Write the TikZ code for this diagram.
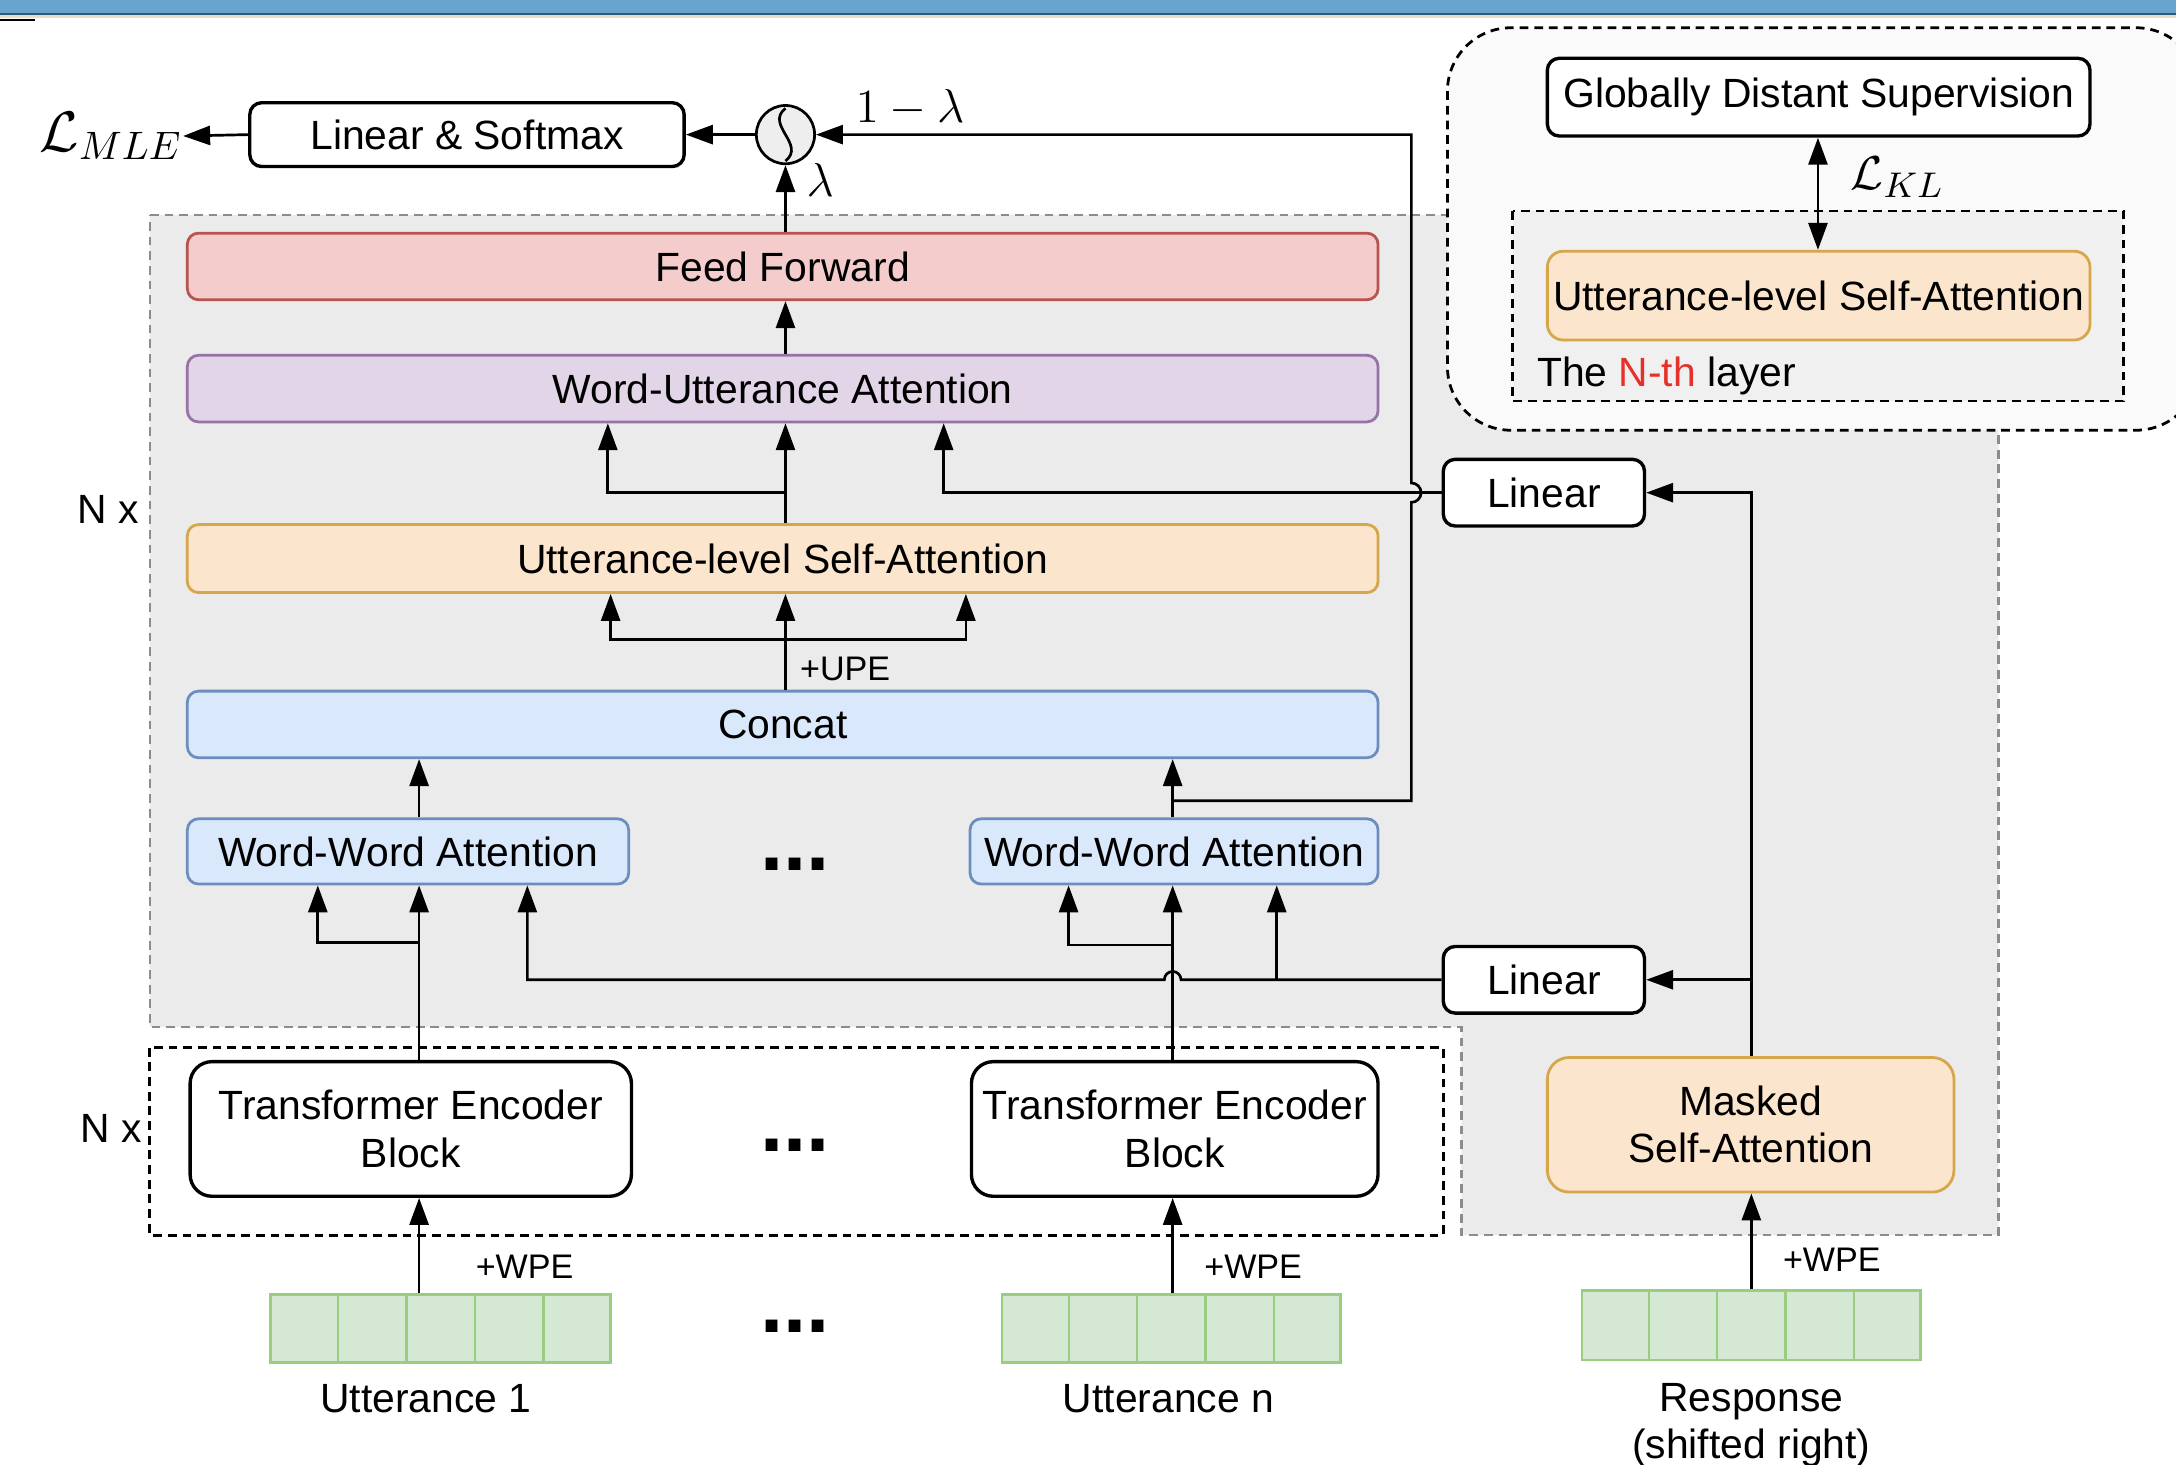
\documentclass[tikz,border=0pt]{standalone}
\usepackage{fontspec}
\setmainfont{Liberation Sans}
\usetikzlibrary{arrows.meta,calc}
\definecolor{ffill}{HTML}{F4CCCC}
\definecolor{fdraw}{HTML}{B85450}
\definecolor{pfill}{HTML}{E1D5E7}
\definecolor{pdraw}{HTML}{9673A6}
\definecolor{ofill}{HTML}{FCE5CD}
\definecolor{odraw}{HTML}{D6A64B}
\definecolor{bfill}{HTML}{DAE8FC}
\definecolor{bdraw}{HTML}{6C8EBF}
\definecolor{gfill}{HTML}{D5E8D4}
\definecolor{gdraw}{HTML}{9ACD7F}
\definecolor{regfill}{HTML}{EBEBEB}
\definecolor{regdraw}{HTML}{8C8C8C}
\definecolor{outerfill}{HTML}{FAFAFA}
\definecolor{nthfill}{HTML}{F0F0F0}
\definecolor{sigfill}{HTML}{EEEEEE}
\definecolor{nthred}{HTML}{E8302A}
\definecolor{barblue}{HTML}{67A5CF}
\definecolor{bardark}{HTML}{2C5A7A}
\definecolor{barbeige}{HTML}{E9DDC6}
\newcommand\mybox[7]{\node[#2,minimum width={(#5-#3)*0.35pt},minimum height={(#6-#4)*0.35pt}] (#1) at ({(#3+#5)/2},{(#4+#6)/2}) {#7};}
\begin{document}
\begin{tikzpicture}[x=0.35pt,y=-0.35pt,
  font=\fontsize{10.3}{11.9}\selectfont,
  ln/.style={line width=0.68pt},
  arr/.style={line width=0.68pt,-{Triangle[length=6.8pt,width=4.8pt]}},
  dbl/.style={line width=0.68pt,{Triangle[length=6.8pt,width=4.8pt]}-{Triangle[length=6.8pt,width=4.8pt]}},
  colbox/.style={rounded corners=2.8pt,line width=0.7pt,inner sep=0pt},
  whbox/.style={draw=black,fill=white,rounded corners=3pt,line width=0.85pt,inner sep=0pt},
  tebox/.style={whbox,rounded corners=5.5pt,align=center},
  ffbox/.style={colbox,draw=fdraw,fill=ffill},
  wubox/.style={colbox,draw=pdraw,fill=pfill},
  orbox/.style={colbox,draw=odraw,fill=ofill},
  blbox/.style={colbox,draw=bdraw,fill=bfill},
  embbox/.style={draw=gdraw,fill=gfill,line width=0.7pt,inner sep=0pt},
  blkdash/.style={draw=black,line width=0.7pt,dash pattern=on 2.2pt off 1.5pt},
  greydash/.style={draw=regdraw,line width=0.6pt,dash pattern=on 2.2pt off 1.5pt},
  lbl/.style={inner sep=0pt},
  dotslbl/.style={inner sep=0pt,font=\bfseries\fontsize{21}{21}\selectfont},
  smalllbl/.style={inner sep=0pt,font=\fontsize{8.6}{10}\selectfont},
  mathlbl/.style={inner sep=0pt,font=\fontsize{13}{14}\selectfont}]
\useasboundingbox (0,0) rectangle (1568,1055);
% top bar
\fill[barblue] (0,0) rectangle (1568,9);
\fill[bardark] (0,9) rectangle (1568,10.5);
\fill[barbeige] (0,10.5) rectangle (1568,13);
\draw[line width=0.6pt] (0,14.5) -- (25,14.5);
% regions
\path[fill=regfill,greydash] (108,155) -- (1440,155) -- (1440,890) -- (1053,890) -- (1053,740) -- (108,740) -- cycle;
\path[fill=outerfill,blkdash,rounded corners=16pt] (1043,20) rectangle (1585,310);
\path[fill=nthfill,blkdash] (1090,152) rectangle (1530,289);
\path[blkdash] (108,755) rectangle (1040,890);
% nodes
\mybox{lsm}{whbox}{180}{74}{493}{120}{Linear \& Softmax}
\node[circle,draw,fill=sigfill,line width=0.68pt,minimum size=14.7pt,inner sep=0pt] (sig) at (566,97) {};
\draw[ln] ($(sig.center)+(0,-19)$) .. controls ($(sig.center)+(-15,-7)$) and ($(sig.center)+(15,7)$) .. ($(sig.center)+(0,19)$);
\node[mathlbl,font=\fontsize{14}{15}\selectfont] (lmle) at (80,98) {$\mathcal{L}_{MLE}$};
\mybox{ff}{ffbox}{135}{168}{993}{216}{Feed Forward}
\mybox{wua}{wubox}{135}{256}{993}{304}{Word-Utterance Attention}
\mybox{ulsa}{orbox}{135}{378}{993}{427}{Utterance-level Self-Attention}
\mybox{concat}{blbox}{135}{498}{993}{546}{Concat}
\mybox{wwa1}{blbox}{135}{590}{453}{637}{Word-Word Attention}
\mybox{wwan}{blbox}{699}{590}{993}{637}{Word-Word Attention}
\mybox{lin1}{whbox}{1040}{331}{1185}{379}{Linear}
\mybox{lin2}{whbox}{1040}{682}{1185}{730}{Linear}
\mybox{teb1}{tebox}{137}{765}{455}{862}{Transformer Encoder\\Block}
\mybox{tebn}{tebox}{700}{765}{993}{862}{Transformer Encoder\\Block}
\mybox{msa}{orbox,rounded corners=5.5pt,align=center}{1115}{762}{1408}{859}{Masked\\Self-Attention}
\mybox{gds}{whbox}{1115}{42}{1506}{98}{Globally Distant Supervision}
\mybox{ulsa2}{orbox,rounded corners=4pt}{1115}{181}{1506}{245}{Utterance-level Self-Attention}
\mybox{emb1}{embbox}{195}{933}{440}{982}{}
\mybox{embn}{embbox}{722}{933}{966}{982}{}
\mybox{embr}{embbox}{1140}{930}{1384}{980}{}
\foreach \e in {emb1,embn,embr}{
  \foreach \i in {1,...,4}{
    \draw[gdraw,line width=0.6pt] ($(\e.north west)!\i/5!(\e.north east)$) -- ($(\e.south west)!\i/5!(\e.south east)$);
  }
}
% coordinates
\coordinate (c1) at (302,900);
\coordinate (cn) at (845,900);
\coordinate (cr) at (1262,900);
\coordinate (cm) at (566,300);
\coordinate (kl) at (1310,120);
\coordinate (b1) at (302,679);
\coordinate (b1l) at (229,679);
\coordinate (bn) at (845,681);
\coordinate (bnl) at (770,681);
\coordinate (h1) at (851,706);
\coordinate (k1) at (380,706);
\coordinate (k2) at (920,706);
\coordinate (r1) at (845,577);
\coordinate (r2) at (1017,577);
\coordinate (r3) at (1017,362);
\coordinate (u0) at (566,461);
\coordinate (u1) at (440,461);
\coordinate (u2) at (696,461);
\coordinate (w0) at (566,355);
\coordinate (w1) at (438,355);
\coordinate (w2) at (680,355);
% connectors
\draw[arr] (emb1.north -| c1) -- (teb1.south -| c1);
\draw[arr] (embn.north -| cn) -- (tebn.south -| cn);
\draw[arr] (embr.north -| cr) -- (msa.south -| cr);
\draw[arr] (teb1.north -| c1) -- (wwa1.south -| c1);
\draw[arr] (b1) -- (b1l) -- (wwa1.south -| b1l);
\draw[arr] (tebn.north -| cn) -- (wwan.south -| cn);
\draw[arr] (bn) -- (bnl) -- (wwan.south -| bnl);
\draw[arr] (lin2.west) -- (h1) arc[start angle=0,end angle=-180,radius=6] -- (k1) -- (wwa1.south -| k1);
\draw[arr] (k2) -- (wwan.south -| k2);
\draw[arr] (wwa1.north -| c1) -- (concat.south -| c1);
\draw[arr] (wwan.north -| cn) -- (concat.south -| cn);
\draw[arr] (r1) -- (r2) -- (r3) arc[start angle=90,end angle=-90,radius=7] -- (r2 |- sig.east) -- (sig.east);
\draw[ln] (concat.north -| u0) -- (u0);
\draw[arr] (u0) -- (ulsa.south -| u0);
\draw[arr] (u0) -- (u1) -- (ulsa.south -| u1);
\draw[arr] (u0) -- (u2) -- (ulsa.south -| u2);
\draw[arr] (ulsa.north -| w0) -- (wua.south -| w0);
\draw[arr] (w0) -- (w1) -- (wua.south -| w1);
\draw[arr] (lin1.west) -- (w2) -- (wua.south -| w2);
\draw[arr] (msa.north -| cr) -- (cr |- lin1.east) -- (lin1.east);
\draw[arr] (cr |- lin2.east) -- (lin2.east);
\draw[arr] (wua.north -| cm) -- (ff.south -| cm);
\draw[arr] (ff.north -| cm) -- (sig.south);
\draw[arr] (sig.west) -- (lsm.east);
\draw[arr] (lsm.west) -- (lmle.east);
\draw[dbl] (gds.south -| kl) -- (ulsa2.north -| kl);
% labels
\node[mathlbl,anchor=west] at (616,78) {$1-\lambda$};
\node[mathlbl] at (591,130) {$\lambda$};
\node[mathlbl,anchor=west] at (1333,128) {$\mathcal{L}_{KL}$};
\node[smalllbl,anchor=west] at (576,482) {+UPE};
\node[smalllbl] at (378,913) {+WPE};
\node[smalllbl] at (903,913) {+WPE};
\node[smalllbl] at (1320,908) {+WPE};
\node[lbl] at (78,367) {N x};
\node[lbl] at (80,813) {N x};
\node[lbl,anchor=west] at (1107,271) {The \textcolor{nthred}{N-th} layer};
\node[lbl] at (307,1008) {Utterance 1};
\node[lbl] at (842,1008) {Utterance n};
\node[lbl,align=center] at (1262,1027) {Response\\(shifted right)};
\node[dotslbl] at (573,623) {...};
\node[dotslbl] at (573,825) {...};
\node[dotslbl] at (573,956) {...};
\end{tikzpicture}
\end{document}
